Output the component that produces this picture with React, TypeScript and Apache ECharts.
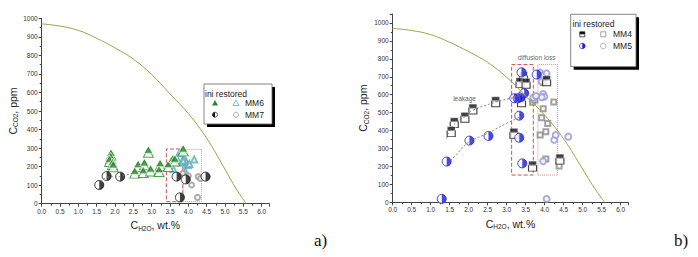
import React, { useEffect, useRef } from 'react';
import * as echarts from 'echarts';

// ---------- data ----------
const curveX = [0, 0.5, 1.0, 1.5, 2.0, 2.5, 3.0, 3.5, 4.0, 4.5, 5.0, 5.3, 5.58];
const curveY = [970, 958, 935, 892, 840, 780, 697, 592, 486, 353, 185, 82, 0];

// panel a
const mm6Ini = [[1.89, 270], [1.88, 252], [1.85, 236], [1.93, 220], [1.95, 207], [2.54, 173], [2.63, 209], [2.77, 176], [2.80, 218], [2.91, 286], [2.97, 185], [3.20, 182], [3.23, 214], [3.45, 209], [3.57, 239], [3.63, 239], [3.86, 293]];
const mm6Restored = [[3.75, 272], [3.82, 281], [3.73, 227], [3.82, 221], [3.88, 245], [3.94, 227], [3.98, 209], [4.16, 239], [3.59, 186], [3.92, 173], [3.86, 232], [4.03, 214]];
const mm7Ini = [[1.57, 101], [1.77, 149], [2.14, 146], [3.68, 146], [3.93, 131], [4.47, 146], [3.77, 34]];
const mm7Restored = [[3.85, 164], [4.0, 151], [4.09, 101], [4.27, 146], [4.33, 136], [4.25, 34]];
const trendA = [[1.62, 115], [1.78, 143], [2.15, 148], [2.6, 172]];
const boxesA = [[3.40, 11, 3.85, 295, 'dashed'], [3.85, 11, 4.36, 293, 'dotted']];

// panel b
const mm4Ini = [[1.54, 394], [1.62, 444], [1.90, 474], [2.11, 520], [2.71, 561], [3.19, 385], [3.35, 667], [3.44, 700], [3.51, 664], [3.39, 561], [3.68, 202], [4.05, 678], [4.40, 241]];
const mm4Restored = [[3.68, 558], [3.74, 570], [3.96, 522], [3.92, 472], [4.08, 440], [3.88, 375], [4.03, 394], [4.03, 241], [4.38, 202], [4.24, 559], [3.96, 668]];
const mm5Ini = [[1.29, 19], [1.42, 227], [2.02, 344], [2.52, 370], [3.20, 580], [3.29, 580], [3.36, 586], [3.46, 608], [3.33, 483], [3.33, 360], [3.41, 217], [3.39, 725], [3.79, 712]];
const mm5Restored = [[3.88, 723], [3.96, 707], [4.05, 719], [3.92, 673], [3.96, 604], [3.99, 589], [3.92, 586], [3.70, 583], [3.77, 593], [4.25, 348], [4.29, 375], [4.62, 366], [3.96, 229], [4.05, 19]];
const leakUpper = [[1.42, 355], [1.55, 420], [1.9, 478], [2.1, 512], [2.7, 558], [3.2, 585], [3.4, 598]];
const leakLower = [[1.45, 215], [1.7, 272], [2.0, 335], [2.5, 385], [3.0, 440], [3.4, 480]];
const boxesB = [[3.13, 152, 3.70, 768, 'dashed'], [3.82, 152, 4.34, 768, 'dotted']];
const notesB = [{ value: [1.89, 578], name: 'leakage' }, { value: [3.79, 808], name: 'diffusion loss' }];

const xTicks = { min: 0, max: 6.2, interval: 0.5 };
const yTicksA = { min: 0, max: 1000, interval: 100 };
const yTicksB = { min: 0, max: 1050, interval: 100 };

// ---------- style ----------
const FONT = 'Liberation Sans, Arial, sans-serif';
const GREEN = '#2a8a2a';
const TEAL = '#5aaeb8';
const BLUE = '#1c1cd8';
const LBLUE = '#9898d4';
const GREY = '#8a8a8a';
const CURVE = '#a4a24a';
const HALF_RIGHT = 'path://M0,0 A10,10 0 0 1 0,20 Z';

const curveData = curveX.map((x, i) => [x, curveY[i]]);

const rich = {
  m: { fontSize: 10.5, color: '#222', fontFamily: FONT },
  s: { fontSize: 6.5, color: '#222', fontFamily: FONT, padding: [6, 0, 0, 0] },
};

function xAxis(gridIndex: number) {
  return {
    type: 'value', gridIndex, ...xTicks,
    axisLine: { show: true, onZero: false, lineStyle: { color: '#444', width: 1 } },
    axisTick: { show: true, length: 3, lineStyle: { color: '#444' } },
    minorTick: { show: true, splitNumber: 2, length: 2, lineStyle: { color: '#444' } },
    splitLine: { show: false },
    axisLabel: { fontSize: 6.5, color: '#333', margin: 4, showMaxLabel: false, fontFamily: FONT, formatter: (v: number) => v.toFixed(1) },
    name: '{m|C}{s|H2O}{m|, wt.%}', nameLocation: 'middle', nameGap: 15,
    nameTextStyle: { rich },
  };
}
function yAxis(gridIndex: number, ticks: any, showMax: boolean, gap: number) {
  return {
    type: 'value', gridIndex, ...ticks,
    axisLine: { show: true, onZero: false, lineStyle: { color: '#444', width: 1 } },
    axisTick: { show: true, length: 3, lineStyle: { color: '#444' } },
    minorTick: { show: true, splitNumber: 2, length: 2, lineStyle: { color: '#444' } },
    splitLine: { show: false },
    axisLabel: { fontSize: 6.5, color: '#333', margin: 4, showMaxLabel: showMax, fontFamily: FONT, formatter: (v: number) => String(Math.round(v)) },
    name: '{m|C}{s|CO2}{m|, ppm}', nameLocation: 'middle', nameGap: gap,
    nameTextStyle: { rich },
  };
}

function boxArea(boxes: any[]) {
  return {
    silent: true,
    data: boxes.map((b) => [
      { coord: [b[0], b[1]], itemStyle: { color: 'rgba(0,0,0,0)', borderColor: b[4] === 'dashed' ? '#d45050' : '#e08a8a', borderWidth: 1, borderType: b[4] } },
      { coord: [b[2], b[3]] },
    ]),
  };
}

function scatter(ax: number, data: any[], extra: any) {
  return { type: 'scatter', xAxisIndex: ax, yAxisIndex: ax, data, silent: true, ...extra };
}

const txt = (x: number, y: number, text: string) => ({
  type: 'text', x, y, silent: true,
  style: { text, fontSize: 8.5, fontFamily: FONT, fill: '#222', verticalAlign: 'middle' },
});

const option: any = {
  animation: false,
  grid: [
    { left: 41.7, top: 18.3, width: 227.3, height: 185.4 },
    { left: 392.7, top: 14.0, width: 235.6, height: 188.3 },
  ],
  xAxis: [xAxis(0), xAxis(1)],
  yAxis: [yAxis(0, yTicksA, true, 22), yAxis(1, yTicksB, false, 23)],
  series: [
    // ---- panel a ----
    { type: 'line', xAxisIndex: 0, yAxisIndex: 0, data: curveData, smooth: 0.4, showSymbol: false, silent: true, lineStyle: { color: CURVE, width: 1 }, markArea: boxArea(boxesA) },
    { type: 'line', xAxisIndex: 0, yAxisIndex: 0, data: trendA, smooth: 0.4, showSymbol: false, silent: true, lineStyle: { color: '#777', width: 0.8, type: [2, 2] } },
    scatter(0, mm6Restored, { symbol: 'emptyTriangle', symbolSize: 6, itemStyle: { color: TEAL, borderWidth: 0.8 } }),
    scatter(0, mm7Restored, { symbol: 'emptyCircle', symbolSize: 5, itemStyle: { color: '#999', borderWidth: 0.8 } }),
    scatter(0, mm6Ini, { symbol: 'triangle', symbolSize: [10, 9], symbolOffset: [0, 2], itemStyle: { color: '#fff', borderColor: GREEN, borderWidth: 1 } }),
    scatter(0, mm6Ini, { symbol: 'triangle', symbolSize: [9, 7.5], symbolOffset: [0, -1], itemStyle: { color: GREEN, borderColor: '#fff', borderWidth: 0.8 } }),
    scatter(0, mm7Ini, { symbol: 'circle', symbolSize: 9, itemStyle: { color: '#fff', borderColor: '#111', borderWidth: 1 } }),
    scatter(0, mm7Ini, { symbol: HALF_RIGHT, symbolSize: [4.5, 9], symbolOffset: [2.25, 0], itemStyle: { color: '#111' } }),
    // ---- panel b ----
    { type: 'line', xAxisIndex: 1, yAxisIndex: 1, data: curveData, smooth: 0.4, showSymbol: false, silent: true, lineStyle: { color: CURVE, width: 1 }, markArea: boxArea(boxesB) },
    { type: 'line', xAxisIndex: 1, yAxisIndex: 1, data: leakUpper, smooth: 0.4, showSymbol: false, silent: true, lineStyle: { color: '#666', width: 0.8, type: [2, 2] } },
    { type: 'line', xAxisIndex: 1, yAxisIndex: 1, data: leakLower, smooth: 0.4, showSymbol: false, silent: true, lineStyle: { color: '#666', width: 0.8, type: [2, 2] } },
    scatter(1, mm4Restored, { symbol: 'emptyRect', symbolSize: 5, itemStyle: { color: GREY, borderWidth: 0.8 } }),
    scatter(1, mm5Restored, { symbol: 'emptyCircle', symbolSize: 6, itemStyle: { color: LBLUE, borderWidth: 0.8 } }),
    scatter(1, mm4Ini, { symbol: 'rect', symbolSize: [8, 6], symbolOffset: [0, 2], itemStyle: { color: '#fff', borderColor: '#111', borderWidth: 1 } }),
    scatter(1, mm4Ini, { symbol: 'rect', symbolSize: [8, 4], symbolOffset: [0, -3], itemStyle: { color: '#111', borderColor: '#fff', borderWidth: 0.6 } }),
    scatter(1, mm5Ini, { symbol: 'circle', symbolSize: 9, itemStyle: { color: '#fff', borderColor: BLUE, borderWidth: 1 } }),
    scatter(1, mm5Ini, { symbol: HALF_RIGHT, symbolSize: [4.5, 9], symbolOffset: [2.25, 0], itemStyle: { color: BLUE } }),
    scatter(1, notesB, { symbolSize: 0, label: { show: true, position: 'inside', formatter: '{b}', fontSize: 6.5, color: '#333', fontFamily: FONT } }),
  ],
  graphic: [
    // legend a
    { type: 'rect', shape: { x: 207, y: 87, width: 68, height: 40 }, style: { fill: '#000' }, silent: true },
    { type: 'rect', shape: { x: 204, y: 84, width: 68, height: 40 }, style: { fill: '#fff', stroke: '#666', lineWidth: 0.8 }, silent: true },
    txt(205, 94, 'ini restored'),
    { type: 'polygon', shape: { points: [[215, 100], [218, 105.5], [212, 105.5]] }, style: { fill: GREEN }, silent: true },
    { type: 'polygon', shape: { points: [[236, 100], [239, 105.5], [233, 105.5]] }, style: { fill: 'none', stroke: TEAL, lineWidth: 0.8 }, silent: true },
    txt(245, 103.3, 'MM6'),
    { type: 'circle', shape: { cx: 215, cy: 114.7, r: 2.5 }, style: { fill: '#fff', stroke: '#111', lineWidth: 0.7 }, silent: true },
    { type: 'sector', shape: { cx: 215, cy: 114.7, r: 2.5, startAngle: Math.PI / 2, endAngle: Math.PI * 1.5 }, style: { fill: '#111' }, silent: true },
    { type: 'circle', shape: { cx: 236, cy: 114.7, r: 2.5 }, style: { fill: 'none', stroke: '#999', lineWidth: 0.8 }, silent: true },
    txt(245, 114.7, 'MM7'),
    // legend b
    { type: 'rect', shape: { x: 573.7, y: 17.3, width: 65.3, height: 52.4 }, style: { fill: '#000' }, silent: true },
    { type: 'rect', shape: { x: 570.7, y: 14.3, width: 65.3, height: 52.4 }, style: { fill: '#fff', stroke: '#666', lineWidth: 0.8 }, silent: true },
    txt(572.5, 24, 'ini restored'),
    { type: 'rect', shape: { x: 579.8, y: 31.8, width: 5, height: 5 }, style: { fill: '#fff', stroke: '#111', lineWidth: 0.7 }, silent: true },
    { type: 'rect', shape: { x: 579.8, y: 31.8, width: 5, height: 2.5 }, style: { fill: '#111' }, silent: true },
    { type: 'rect', shape: { x: 600.8, y: 31.8, width: 5, height: 5 }, style: { fill: 'none', stroke: GREY, lineWidth: 0.8 }, silent: true },
    txt(613, 34.3, 'MM4'),
    { type: 'circle', shape: { cx: 582.3, cy: 46, r: 2.8 }, style: { fill: '#fff', stroke: BLUE, lineWidth: 0.7 }, silent: true },
    { type: 'sector', shape: { cx: 582.3, cy: 46, r: 2.8, startAngle: -Math.PI / 2, endAngle: Math.PI / 2 }, style: { fill: BLUE }, silent: true },
    { type: 'circle', shape: { cx: 603.3, cy: 46, r: 2.8 }, style: { fill: 'none', stroke: LBLUE, lineWidth: 0.8 }, silent: true },
    txt(613, 46, 'MM5'),
    // panel letters
    { type: 'text', x: 314, y: 240, silent: true, style: { text: 'a)', fontSize: 17, fontFamily: 'Liberation Serif, serif', fill: '#111', verticalAlign: 'middle' } },
    { type: 'text', x: 674, y: 240, silent: true, style: { text: 'b)', fontSize: 17, fontFamily: 'Liberation Serif, serif', fill: '#111', verticalAlign: 'middle' } },
  ],
};

export default function App() {
  const ref = useRef<HTMLDivElement>(null);
  useEffect(() => {
    document.body.style.margin = '0';
    const chart = echarts.init(ref.current!, null, { renderer: 'svg' });
    chart.setOption(option);
    return () => chart.dispose();
  }, []);
  return <div ref={ref} style={{ width: 698, height: 257 }} />;
}
